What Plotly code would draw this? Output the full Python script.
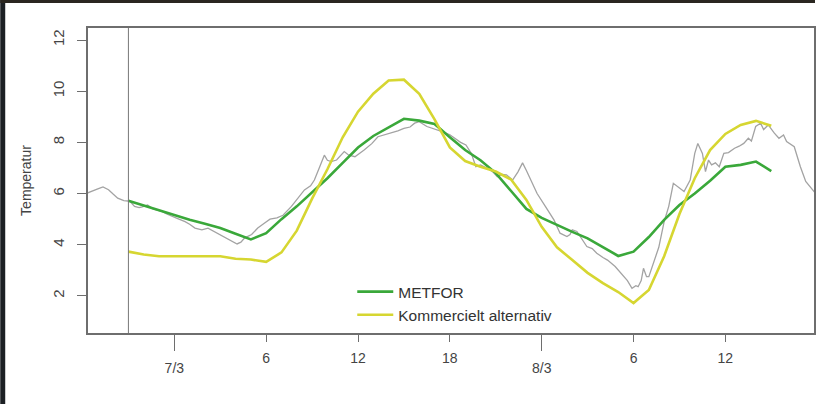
import plotly.graph_objects as go

# Hours relative to 7/3 00:00
obs_hours = [-5.7,-5.3,-5.0,-4.66,-4.3,-4.0,-3.7,-3.3,-2.9,-2.6,-2.3,-2.1,-1.75,-1.4,-1.1,-0.8,-0.5,-0.15,0.3,0.7,
             1.0,1.35,1.8,2.2,2.5,2.85,3.3,3.8,4.1,4.35,4.6,5.05,5.45,5.9,6.25,6.7,7.1,7.65,8.1,8.5,
             8.9,9.15,9.5,9.8,10.0,10.25,10.6,11.1,11.4,11.8,12.4,12.9,13.3,13.8,14.2,14.6,15.0,15.4,15.7,16.0,
             16.5,16.9,17.2,17.6,18.0,18.3,18.7,19.05,19.4,19.7,20.0,20.45,20.8,21.1,21.4,21.7,22.1,22.45,22.75,23.0,
             23.2,23.7,24.25,24.8,25.2,25.65,25.85,26.0,26.3,26.95,27.3,27.6,28.0,28.3,28.8,29.35,29.6,29.9,30.15,30.3,
             30.5,30.65,30.85,31.0,31.3,31.65,32.0,32.3,32.6,32.9,33.3,33.7,34.0,34.2,34.5,34.7,34.9,35.1,35.35,35.6,
             35.9,36.2,36.6,36.9,37.2,37.5,37.7,37.98,38.3,38.5,38.8,39.2,39.5,39.8,40.0,40.5,40.9,41.25,41.7,41.9]
obs_temp = [6.02,6.1,6.18,6.26,6.15,5.98,5.82,5.72,5.7,5.5,5.45,5.48,5.55,5.4,5.35,5.3,5.2,5.1,5.0,4.9,
            4.8,4.65,4.58,4.65,4.55,4.45,4.3,4.1,4.03,4.1,4.27,4.4,4.65,4.85,5.0,5.05,5.15,5.5,5.85,6.14,
            6.3,6.53,7.05,7.5,7.3,7.25,7.31,7.64,7.5,7.44,7.7,7.95,8.22,8.3,8.36,8.45,8.55,8.6,8.75,8.81,
            8.62,8.55,8.48,8.4,8.3,8.16,8.0,7.9,7.57,7.05,7.12,6.99,6.85,6.66,6.75,6.73,6.53,6.85,7.2,6.9,
            6.66,6.0,5.49,4.97,4.45,4.32,4.4,4.58,4.52,3.93,3.85,3.67,3.5,3.4,3.15,2.75,2.6,2.3,2.4,2.36,
            2.6,3.08,2.75,2.75,3.3,3.9,4.9,5.5,6.4,6.27,6.08,6.53,7.57,7.96,7.57,6.86,7.31,7.12,7.2,7.05,
            7.57,7.6,7.77,7.85,7.96,8.16,8.05,8.62,8.75,8.5,8.68,8.36,8.16,8.29,8.03,7.83,7.05,6.47,6.14,6.0]

fc_hours = list(range(-3, 40))
metfor = [5.72,5.53,5.34,5.15,4.98,4.82,4.65,4.43,4.21,4.45,5.0,5.5,6.05,6.6,7.2,7.8,8.25,8.6,8.92,8.85,
          8.72,8.2,7.7,7.3,6.8,6.1,5.4,5.05,4.77,4.5,4.25,3.9,3.56,3.73,4.3,4.97,5.55,6.0,6.5,7.05,
          7.12,7.25,6.88]
kommerciel = [3.73,3.62,3.55,3.55,3.55,3.55,3.55,3.45,3.42,3.33,3.7,4.55,5.8,6.95,8.2,9.2,9.9,10.42,10.45,9.9,
              8.9,7.8,7.27,7.05,6.86,6.55,5.75,4.7,3.9,3.4,2.9,2.5,2.15,1.72,2.23,3.55,5.2,6.6,7.7,8.33,
              8.68,8.84,8.65]

forecast_start = -3
x_range = [-5.64, 41.79]
y_range = [0.55, 12.47]
hour_ticks = [6, 12, 18, 30, 36]
hour_labels = ["6", "12", "18", "6", "12"]
day_ticks = [0, 24]
day_labels = ["7/3", "8/3"]
y_ticks = [2, 4, 6, 8, 10, 12]

FONT = "Liberation Sans, Arial, sans-serif"

fig = go.Figure()
fig.add_trace(go.Scatter(x=obs_hours, y=obs_temp, mode="lines",
                         line=dict(color="#a3a3a3", width=1.3), showlegend=False, hoverinfo="skip"))
fig.add_trace(go.Scatter(x=fc_hours, y=metfor, mode="lines", name="METFOR",
                         line=dict(color="#3aa83a", width=2.6)))
fig.add_trace(go.Scatter(x=fc_hours, y=kommerciel, mode="lines", name="Kommercielt alternativ",
                         line=dict(color="#d6d631", width=2.6)))
fig.add_trace(go.Scatter(x=[None], y=[None], xaxis="x2", showlegend=False, hoverinfo="skip"))

fig.add_shape(type="line", x0=forecast_start, x1=forecast_start, xref="x", y0=0, y1=1, yref="paper",
              line=dict(color="#777777", width=1))
# dark screenshot edges
fig.add_shape(type="rect", xref="paper", yref="paper", x0=-88/728, x1=-83/728, y0=-71/305, y1=1 + 28/305,
              fillcolor="#1c2024", line=dict(width=0), layer="above")
fig.add_shape(type="rect", xref="paper", yref="paper", x0=-88/728, x1=1 + 1/728, y0=1 + 25/305, y1=1 + 28/305,
              fillcolor="#2a2620", line=dict(width=0), layer="above")

axis_line = dict(showline=True, linecolor="#6e6e6e", linewidth=1.5, mirror=True, showgrid=False, zeroline=False)

fig.update_layout(
    width=817, height=404,
    margin=dict(l=88, r=1, t=28, b=71),
    paper_bgcolor="white", plot_bgcolor="white",
    font=dict(family=FONT, color="#444444", size=14),
    xaxis=dict(range=x_range, tickmode="array", tickvals=hour_ticks, ticktext=hour_labels,
               ticks="outside", ticklen=7, tickcolor="#6e6e6e", tickwidth=1,
               tickfont=dict(size=14, color="#444444"), ticklabelstandoff=4, **axis_line),
    xaxis2=dict(range=x_range, overlaying="x", side="bottom", anchor="y", tickmode="array",
                tickvals=day_ticks, ticktext=day_labels, ticks="outside", ticklen=17,
                tickcolor="#6e6e6e", tickwidth=1, showline=False, showgrid=False, zeroline=False,
                tickfont=dict(size=14, color="#444444"), ticklabelstandoff=5),
    yaxis=dict(range=y_range, tickmode="array", tickvals=y_ticks, ticks="outside", ticklen=9,
               tickcolor="#6e6e6e", tickwidth=1, tickangle=-90, ticklabelstandoff=7,
               tickfont=dict(size=15, color="#444444"),
               title=dict(text="Temperatur", font=dict(size=14, color="#444444"), standoff=15),
               **axis_line),
    legend=dict(x=0.364, y=0.19, xanchor="left", yanchor="top", bgcolor="rgba(0,0,0,0)",
                font=dict(size=15.5, color="#333333"), tracegroupgap=0, itemwidth=36),
)

fig.write_html("out.html")
